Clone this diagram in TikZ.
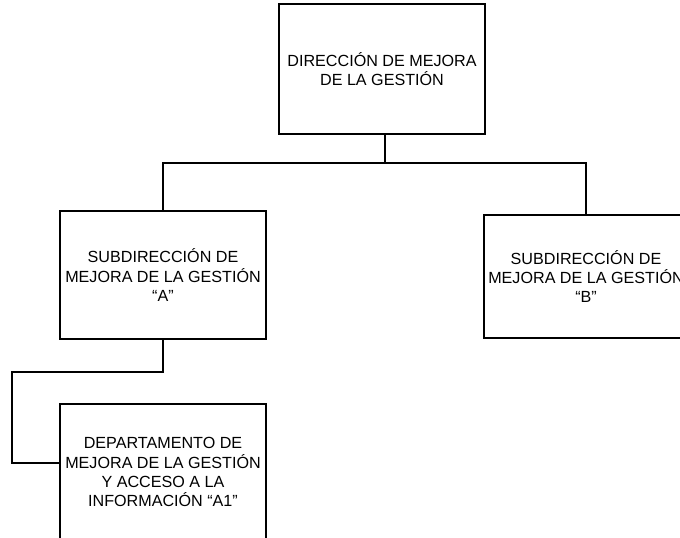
\documentclass[tikz,border=0pt]{standalone}
\usepackage{fontspec}
\setmainfont{Liberation Sans}

\tikzset{every picture/.style={line width=1.5pt}}
\tikzset{unitbox/.style={draw, align=center, inner sep=0pt, font=\fontsize{12.1}{14.3}\selectfont}}

\begin{document}
\begin{tikzpicture}[x=0.75pt,y=0.75pt,yscale=-1,xscale=1]
\useasboundingbox (0,0) rectangle (680,537);
\clip (0,0) rectangle (680,537);

%Flowchart: Process
\node (dir) at (382,69) [unitbox, minimum width=154pt, minimum height=97.5pt] {DIRECCIÓN DE MEJORA\\DE LA GESTIÓN};
%Flowchart: Process
\node (subA) at (163,275) [unitbox, minimum width=154.5pt, minimum height=96pt] {SUBDIRECCIÓN DE\\MEJORA DE LA GESTIÓN\\“A”};
%Flowchart: Process
\node (subB) at (586,276.5) [unitbox, minimum width=153pt, minimum height=92pt] {SUBDIRECCIÓN DE\\MEJORA DE LA GESTIÓN\\“B”};
%Flowchart: Process
\node (depA1) at (163,472) [unitbox, minimum width=154.5pt, minimum height=102pt] {DEPARTAMENTO DE\\MEJORA DE LA GESTIÓN\\Y ACCESO A LA\\INFORMACIÓN “A1”};

\coordinate (bus) at (385,163);
\coordinate (turnA) at (12,372);
\coordinate (turnA1) at (12,463);

%Straight Lines
\draw (bus) -- (bus |- dir.south);
%Straight Lines
\draw (subA.north) |- (bus) -| (subB.north);
%Straight Lines
\draw (subA.south) |- (turnA) -- (turnA1) -- (depA1.west |- turnA1);

\end{tikzpicture}
\end{document}
